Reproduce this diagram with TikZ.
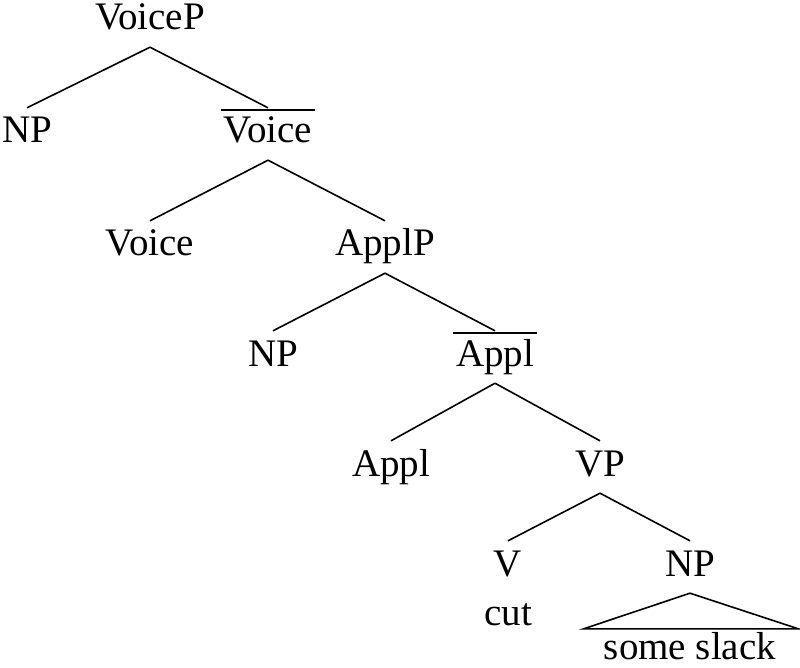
\documentclass[tikz,border=0pt]{standalone}
\usepackage{fontspec}
\setmainfont{Liberation Serif}
\begin{document}
\begin{tikzpicture}[x=1pt,y=-1pt,
  lab/.style={anchor=base,inner sep=0pt,text height=35pt,text depth=17pt,font=\fontsize{39}{44}\selectfont},
  br/.style={line width=1.6pt}]
\useasboundingbox (0,0) rectangle (800,668);
\node[lab] (voicep) at (150,30) {VoiceP};
\node[lab] (np1) at (27,143) {NP};
\node[lab] (voicebar) at (268,143) {Voice};
\node[lab] (voice) at (150,256) {Voice};
\node[lab] (applp) at (385,256) {ApplP};
\node[lab] (np2) at (273,366) {NP};
\node[lab] (applbar) at (495,366) {Appl};
\node[lab] (appl) at (391,476) {Appl};
\node[lab] (vp) at (600,476) {VP};
\node[lab] (v) at (508,576) {V};
\node[lab] (np3) at (690,576) {NP};
\node[lab,text height=28pt,text depth=8pt] (cut) at (508,625) {cut};
\node[lab,text height=30pt,text depth=6pt] (slack) at (690,659) {some slack};
\draw[br] ([shift={(-3,2)}]voicebar.north west) -- ([shift={(3,2)}]voicebar.north east);
\draw[br] ([shift={(-3,2)}]applbar.north west) -- ([shift={(3,2)}]applbar.north east);
\draw[br] (voicep.south) -- (np1.north);
\draw[br] (voicep.south) -- (voicebar.north);
\draw[br] (voicebar.south) -- (voice.north);
\draw[br] (voicebar.south) -- (applp.north);
\draw[br] (applp.south) -- (np2.north);
\draw[br] (applp.south) -- (applbar.north);
\draw[br] (applbar.south) -- (appl.north);
\draw[br] (applbar.south) -- (vp.north);
\draw[br] (vp.south) -- (v.north);
\draw[br] (vp.south) -- (np3.north);
\draw[br] (np3.south) -- ([xshift=-20]slack.north west) -- ([xshift=22]slack.north east) -- cycle;
\end{tikzpicture}
\end{document}
